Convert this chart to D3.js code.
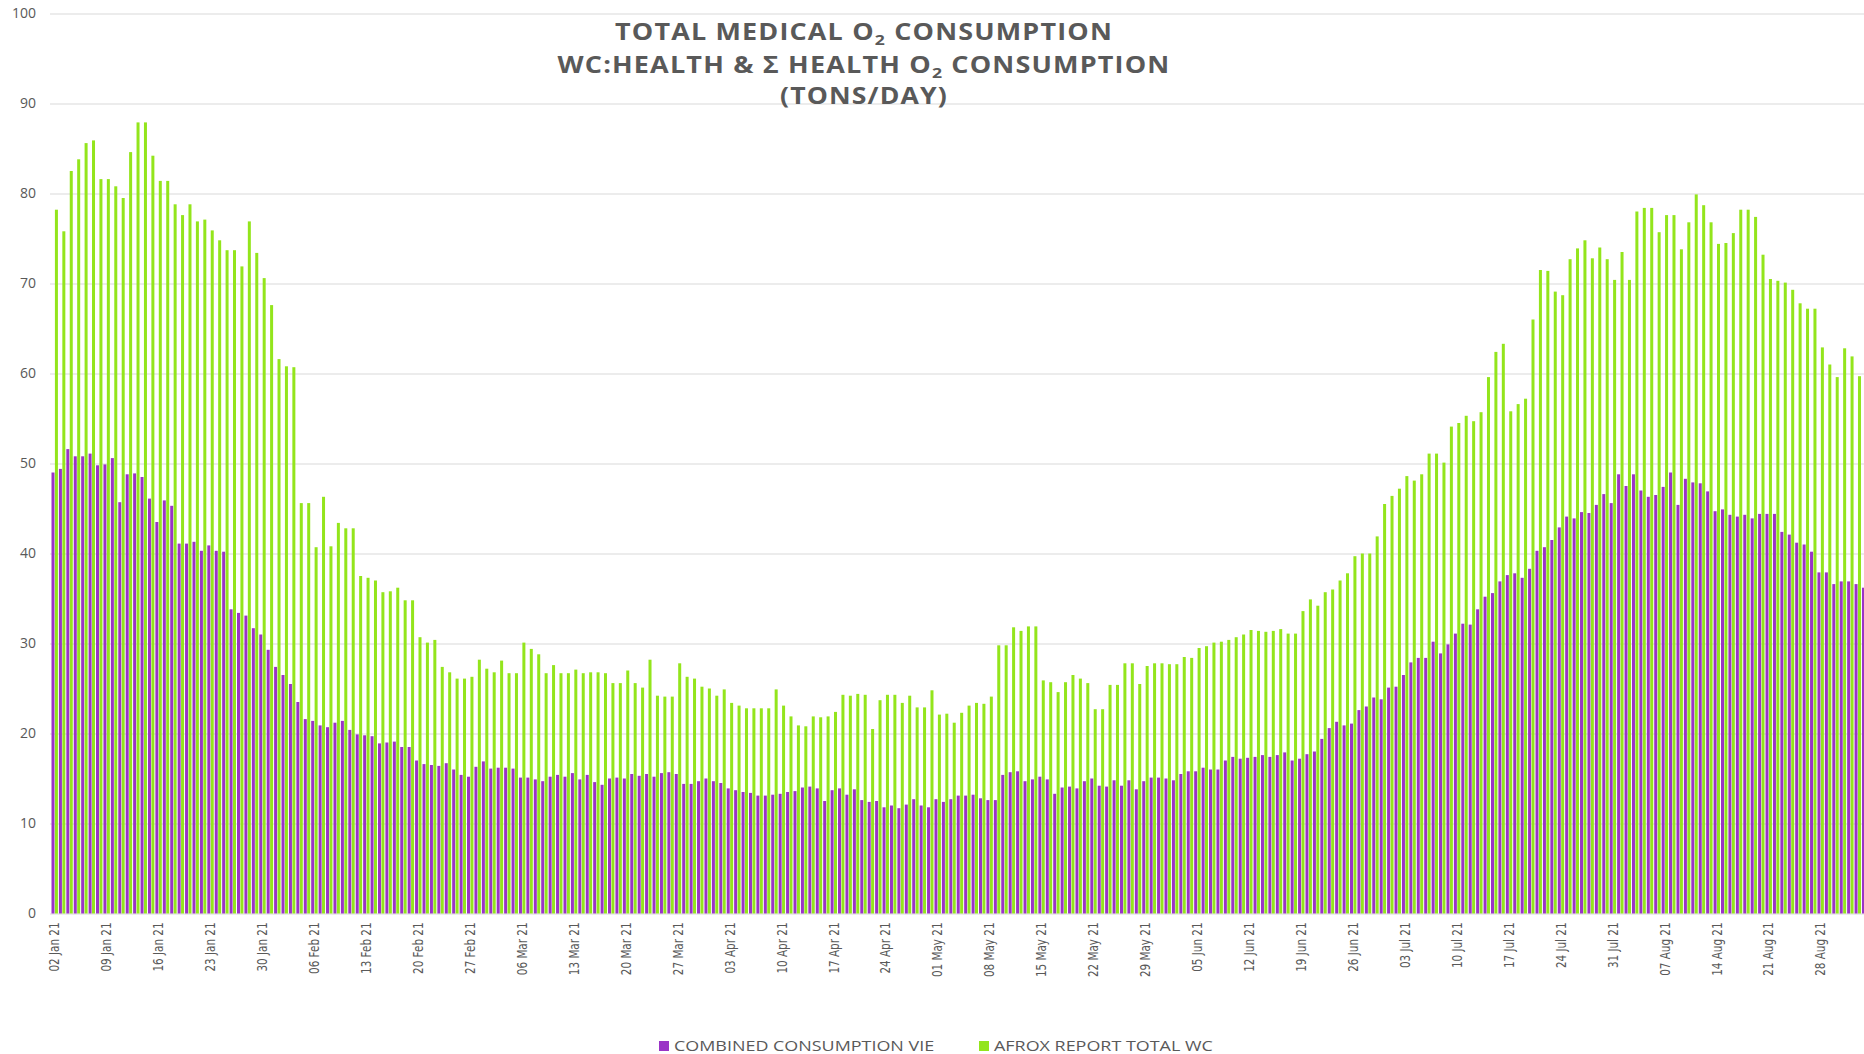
<!DOCTYPE html>
<html>
<head>
<meta charset="utf-8">
<script src="https://cdn.jsdelivr.net/npm/d3@7"></script>
<style>
  body { margin: 0; background: #fff; }
  svg { display: block; }
</style>
</head>
<body>
<div id="chart"></div>
<script>
// daily values, 02 Jan 21 .. 03 Sep 21 (tons/day)
var combinedVie = [
  49.0, 49.4, 51.6, 50.8, 50.8, 51.1, 49.8, 49.9, 50.6, 45.7, 48.8, 48.9, 48.5, 46.1, 43.5, 45.9, 45.3, 41.1, 41.1, 41.3,
  40.3, 40.9, 40.3, 40.2, 33.8, 33.4, 33.1, 31.7, 31.0, 29.3, 27.4, 26.5, 25.5, 23.5, 21.6, 21.4, 20.9, 20.7, 21.2, 21.4,
  20.4, 19.9, 19.8, 19.7, 18.9, 19.0, 19.1, 18.5, 18.5, 17.0, 16.6, 16.5, 16.4, 16.7, 16.0, 15.4, 15.2, 16.3, 16.9, 16.1,
  16.2, 16.2, 16.1, 15.1, 15.1, 14.9, 14.7, 15.2, 15.4, 15.2, 15.6, 14.9, 15.4, 14.6, 14.3, 15.0, 15.1, 15.0, 15.5, 15.3,
  15.5, 15.2, 15.6, 15.7, 15.5, 14.4, 14.4, 14.7, 15.0, 14.7, 14.5, 13.9, 13.7, 13.5, 13.4, 13.1, 13.1, 13.2, 13.3, 13.5,
  13.6, 14.0, 14.1, 13.9, 12.5, 13.7, 13.9, 13.2, 13.8, 12.6, 12.4, 12.5, 11.8, 12.0, 11.7, 12.1, 12.7, 12.0, 11.8, 12.7,
  12.4, 12.7, 13.1, 13.1, 13.2, 12.8, 12.6, 12.6, 15.4, 15.7, 15.8, 14.7, 14.9, 15.2, 14.9, 13.3, 14.0, 14.1, 13.9, 14.7,
  15.0, 14.2, 14.1, 14.8, 14.2, 14.8, 13.8, 14.7, 15.1, 15.1, 15.0, 14.8, 15.5, 15.8, 15.8, 16.2, 16.0, 16.0, 17.0, 17.4,
  17.2, 17.3, 17.4, 17.6, 17.4, 17.6, 17.9, 17.0, 17.2, 17.7, 18.0, 19.4, 20.6, 21.3, 20.9, 21.1, 22.6, 23.0, 24.0, 23.8,
  25.1, 25.2, 26.5, 27.9, 28.4, 28.4, 30.2, 28.9, 29.9, 31.1, 32.2, 32.1, 33.8, 35.2, 35.6, 36.9, 37.6, 37.8, 37.3, 38.3,
  40.3, 40.7, 41.5, 42.9, 44.1, 43.9, 44.6, 44.5, 45.4, 46.6, 45.6, 48.8, 47.5, 48.8, 47.0, 46.3, 46.5, 47.4, 49.0, 45.4,
  48.3, 47.9, 47.8, 46.9, 44.7, 44.9, 44.3, 44.1, 44.3, 43.9, 44.4, 44.4, 44.4, 42.4, 42.1, 41.2, 41.0, 40.2, 37.9, 37.9,
  36.6, 36.9, 36.9, 36.6, 36.2
];
var afroxWc = [
  78.2, 75.8, 82.5, 83.8, 85.6, 85.9, 81.6, 81.6, 80.8, 79.5, 84.6, 87.9, 87.9, 84.2, 81.4, 81.4, 78.8, 77.6, 78.8, 76.9,
  77.1, 75.9, 74.8, 73.7, 73.7, 71.9, 76.9, 73.4, 70.6, 67.6, 61.6, 60.8, 60.7, 45.6, 45.6, 40.7, 46.3, 40.8, 43.4, 42.8,
  42.8, 37.5, 37.3, 37.0, 35.7, 35.8, 36.2, 34.8, 34.8, 30.7, 30.1, 30.4, 27.4, 26.8, 26.1, 26.1, 26.3, 28.2, 27.2, 26.8,
  28.1, 26.7, 26.7, 30.1, 29.4, 28.8, 26.7, 27.6, 26.7, 26.7, 27.1, 26.7, 26.8, 26.8, 26.7, 25.6, 25.6, 27.0, 25.6, 25.1,
  28.2, 24.2, 24.1, 24.1, 27.8, 26.3, 26.1, 25.2, 25.0, 24.2, 24.9, 23.4, 23.1, 22.8, 22.8, 22.8, 22.8, 24.9, 23.1, 21.9,
  20.9, 20.8, 21.9, 21.8, 21.9, 22.4, 24.3, 24.2, 24.4, 24.3, 20.5, 23.7, 24.3, 24.3, 23.4, 24.2, 22.9, 22.9, 24.8, 22.1,
  22.2, 21.2, 22.3, 23.1, 23.4, 23.3, 24.1, 29.8, 29.8, 31.8, 31.4, 31.9, 31.9, 25.9, 25.7, 24.6, 25.7, 26.5, 26.1, 25.6,
  22.7, 22.7, 25.4, 25.4, 27.8, 27.8, 25.5, 27.5, 27.8, 27.8, 27.7, 27.7, 28.5, 28.4, 29.5, 29.7, 30.1, 30.2, 30.4, 30.7,
  31.0, 31.5, 31.4, 31.3, 31.4, 31.6, 31.1, 31.1, 33.6, 34.9, 34.2, 35.7, 36.0, 37.0, 37.8, 39.7, 40.0, 40.0, 41.9, 45.5,
  46.4, 47.2, 48.6, 48.1, 48.8, 51.1, 51.1, 50.1, 54.1, 54.5, 55.3, 54.7, 55.7, 59.6, 62.4, 63.3, 55.8, 56.6, 57.2, 66.0,
  71.5, 71.4, 69.1, 68.7, 72.7, 73.9, 74.8, 72.8, 74.0, 72.7, 70.4, 73.5, 70.4, 78.0, 78.4, 78.4, 75.7, 77.6, 77.6, 73.8,
  76.8, 79.9, 78.7, 76.8, 74.4, 74.5, 75.6, 78.2, 78.2, 77.4, 73.2, 70.5, 70.3, 70.1, 69.3, 67.8, 67.2, 67.2, 62.9, 61.0,
  59.6, 62.8, 61.9, 59.7, 60.5
];
var tickLabels = [
  "02 Jan 21", "09 Jan 21", "16 Jan 21", "23 Jan 21", "30 Jan 21", "06 Feb 21", "13 Feb 21", "20 Feb 21", "27 Feb 21",
  "06 Mar 21", "13 Mar 21", "20 Mar 21", "27 Mar 21", "03 Apr 21", "10 Apr 21", "17 Apr 21", "24 Apr 21", "01 May 21",
  "08 May 21", "15 May 21", "22 May 21", "29 May 21", "05 Jun 21", "12 Jun 21", "19 Jun 21", "26 Jun 21", "03 Jul 21",
  "10 Jul 21", "17 Jul 21", "24 Jul 21", "31 Jul 21", "07 Aug 21", "14 Aug 21", "21 Aug 21", "28 Aug 21"
];
var seriesKeys = ["vie", "wc"];
var seriesNames = ["COMBINED CONSUMPTION VIE", "AFROX REPORT TOTAL WC"];
var seriesColors = ["#9a34c6", "#93e51c"];
var firstDay = new Date(2021, 0, 2);

var W = 1864, H = 1054;
var fmt = d3.timeFormat("%d %b %y");
var days = combinedVie.map(function (v, i) { return fmt(d3.timeDay.offset(firstDay, i)); });
var rows = days.map(function (d, i) { return { day: d, vie: combinedVie[i], wc: afroxWc[i] }; });

var svg = d3.select("#chart").append("svg")
    .attr("width", W)
    .attr("height", H)
    .style("font-family", "'Open Sans', sans-serif");

var step = 7.42;
var x = d3.scaleBand()
    .domain(days)
    .range([51, 51 + days.length * step])
    .padding(0);
var sub = d3.scaleBand()
    .domain(seriesKeys)
    .range([0.5, x.bandwidth() - 0.5])
    .paddingInner(0.12);
var y = d3.scaleLinear()
    .domain([0, 100])
    .range([913.5, 13.5]);

// gridlines + y labels
svg.append("g")
    .attr("transform", "translate(50,0)")
    .call(d3.axisLeft(y).ticks(10).tickSize(-(W - 50)).tickPadding(14))
    .call(function (g) { g.select(".domain").remove(); })
    .call(function (g) { g.selectAll(".tick line").attr("stroke", "#d9d9d9").attr("stroke-width", 1); })
    .call(function (g) {
        g.selectAll(".tick text")
            .attr("fill", "#595959")
            .style("font-size", "14px")
            .style("font-family", "'Open Sans', sans-serif");
    });

// bars
svg.append("g")
    .selectAll("g")
    .data(rows)
    .join("g")
    .attr("transform", function (d) { return "translate(" + x(d.day) + ",0)"; })
    .selectAll("rect")
    .data(function (d) { return seriesKeys.map(function (k) { return { key: k, value: d[k] }; }); })
    .join("rect")
    .attr("x", function (d) { return sub(d.key); })
    .attr("width", sub.bandwidth())
    .attr("y", function (d) { return y(d.value); })
    .attr("height", function (d) { return y(0) - y(d.value); })
    .attr("fill", function (d) { return seriesColors[seriesKeys.indexOf(d.key)]; });

// x labels
svg.append("g")
    .attr("transform", "translate(0," + y(0) + ")")
    .call(d3.axisBottom(x).tickValues(tickLabels).tickSize(0).tickPadding(0))
    .call(function (g) { g.select(".domain").remove(); })
    .selectAll(".tick text")
    .attr("y", 0)
    .attr("dy", "0.35em")
    .attr("text-anchor", "end")
    .attr("transform", "translate(0,9) scale(1.3,1) rotate(-90)")
    .attr("fill", "#595959")
    .style("font-size", "10.4px")
    .style("font-family", "'DejaVu Sans', sans-serif");

// title
var titleLines = [
    { parts: ["TOTAL MEDICAL O", "2", " CONSUMPTION"], width: 498, y: 40 },
    { parts: ["WC:HEALTH & \u03A3 HEALTH O", "2", " CONSUMPTION"], width: 613, y: 73 },
    { parts: ["(TONS/DAY)"], width: 168, y: 104 }
];
var title = svg.append("g")
    .attr("fill", "#595959")
    .attr("text-anchor", "middle")
    .style("font-weight", "bold")
    .style("font-size", "23px")
    .style("letter-spacing", "1px");
titleLines.forEach(function (line) {
    var t = title.append("text").attr("x", 864).attr("y", line.y);
    line.parts.forEach(function (p, i) {
        var ts = t.append("tspan").text(p);
        if (i == 1) ts.attr("dy", 5).style("font-size", "15px");
        if (i == 2) ts.attr("dy", -5);
    });
    t.attr("textLength", line.width).attr("lengthAdjust", "spacingAndGlyphs");
});

// legend
var legendX = [659, 979];
var legend = svg.append("g")
    .selectAll("g")
    .data(seriesNames)
    .join("g")
    .attr("transform", function (d, i) { return "translate(" + legendX[i] + ",1041)"; });
legend.append("rect")
    .attr("width", 10)
    .attr("height", 10)
    .attr("fill", function (d, i) { return seriesColors[i]; });
legend.append("text")
    .attr("x", 15)
    .attr("y", 10)
    .attr("fill", "#595959")
    .style("font-size", "14px")
    .text(function (d) { return d; })
    .each(function () {
        var len = this.getComputedTextLength();
        d3.select(this).attr("textLength", len * 1.28).attr("lengthAdjust", "spacingAndGlyphs");
    });
</script>
</body>
</html>
